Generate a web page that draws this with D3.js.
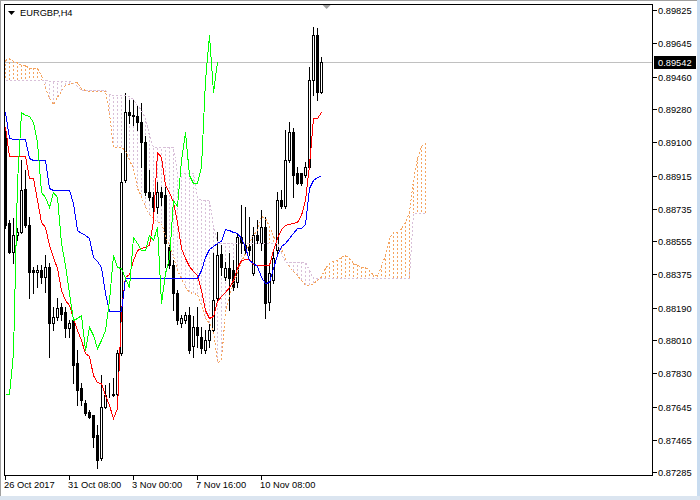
<!DOCTYPE html>
<html><head><meta charset="utf-8">
<script src="https://cdn.jsdelivr.net/npm/d3@7"></script>
<style>html,body{margin:0;padding:0;background:#fff;overflow:hidden}</style>
</head><body>
<svg id="c" width="700" height="500"></svg>
<script>
const symbol = "EURGBP,H4";
const timeLabels = ["26 Oct 2017","31 Oct 08:00","3 Nov 00:00","7 Nov 16:00","10 Nov 08:00"];
const timeTickBars = [0,16,32,48,64];
const priceTicks = [0.89825,0.89645,0.89460,0.89280,0.89100,0.88915,0.88735,0.88555,0.88375,0.88190,0.88010,0.87830,0.87645,0.87465,0.87285];
const lastPrice = 0.89542;
const chikouShift = 26;

const opens = [0.89162,0.88656,0.88496,0.88590,0.88606,0.88843,0.88645,0.88397,0.88386,0.88397,
0.88359,0.88414,0.88106,0.88139,0.88194,0.88166,0.88078,0.88122,0.87886,0.87748,
0.87666,0.87616,0.87600,0.87490,0.87363,0.87644,0.87710,0.87710,0.87715,0.87941,
0.88892,0.89266,0.89250,0.89244,0.89211,0.89101,0.88826,0.88799,0.88744,0.88826,
0.88810,0.88524,0.88425,0.88271,0.88106,0.88122,0.88150,0.87979,0.88084,0.88029,
0.87957,0.88012,0.88067,0.88243,0.88485,0.88359,0.88408,0.88397,0.88331,0.88579,
0.88535,0.88529,0.88381,0.88590,0.88546,0.88634,0.88221,0.88342,0.88507,0.88782,
0.88749,0.89002,0.89156,0.88931,0.88931,0.88920,0.88964,0.89442,0.89690,0.89376];
const highs = [0.89184,0.88672,0.88683,0.88628,0.89002,0.88947,0.88689,0.88414,0.88425,0.88425,
0.88480,0.88436,0.88194,0.88243,0.88216,0.88194,0.88122,0.88139,0.87957,0.87776,
0.87682,0.87627,0.87600,0.87545,0.87820,0.87765,0.87776,0.87803,0.87957,0.89041,
0.89371,0.89332,0.89332,0.89305,0.89316,0.89134,0.88947,0.88826,0.88881,0.88854,
0.88854,0.88535,0.88452,0.88287,0.88150,0.88166,0.88194,0.88144,0.88194,0.88084,
0.88067,0.88100,0.88491,0.88606,0.88535,0.88441,0.88491,0.88452,0.88601,0.88755,
0.88744,0.88689,0.88634,0.88672,0.88727,0.88689,0.88436,0.88507,0.88826,0.88837,
0.89167,0.89211,0.89178,0.88964,0.88931,0.88991,0.89514,0.89734,0.89728,0.89569];
const lows = [0.88628,0.88491,0.88436,0.88562,0.88601,0.88634,0.88243,0.88271,0.88304,0.88326,
0.88276,0.87919,0.88067,0.88122,0.88122,0.88029,0.88029,0.87776,0.87655,0.87655,
0.87600,0.87583,0.87424,0.87308,0.87352,0.87638,0.87699,0.87704,0.87704,0.87930,
0.88880,0.89206,0.89195,0.89167,0.88964,0.88810,0.88782,0.88716,0.88711,0.88755,
0.88414,0.88408,0.88177,0.88100,0.88084,0.88106,0.87941,0.87919,0.87974,0.87941,
0.87941,0.87974,0.88056,0.88232,0.88370,0.88342,0.88177,0.88287,0.88304,0.88491,
0.88491,0.88480,0.88370,0.88546,0.88507,0.88133,0.88177,0.88326,0.88491,0.88738,
0.88738,0.88991,0.88799,0.88870,0.88865,0.88909,0.88958,0.89360,0.89332,0.89371];
const closes = [0.88645,0.88496,0.88590,0.88606,0.88837,0.88645,0.88386,0.88386,0.88397,0.88359,
0.88414,0.88106,0.88139,0.88188,0.88155,0.88078,0.88106,0.87875,0.87737,0.87682,
0.87611,0.87589,0.87479,0.87352,0.87644,0.87710,0.87712,0.87715,0.87941,0.88881,
0.89266,0.89250,0.89244,0.89211,0.89101,0.88826,0.88799,0.88744,0.88826,0.88799,
0.88546,0.88425,0.88271,0.88122,0.88133,0.88150,0.87957,0.88084,0.88040,0.87968,
0.88012,0.88067,0.88232,0.88480,0.88414,0.88408,0.88353,0.88304,0.88579,0.88546,
0.88507,0.88507,0.88590,0.88562,0.88634,0.88216,0.88381,0.88463,0.88782,0.88749,
0.89002,0.89156,0.88920,0.88876,0.88876,0.88964,0.89442,0.89690,0.89376,0.89542];

const tenkan = [0.89184,0.89024,0.89024,0.89024,0.89024,0.89024,0.88903,0.88903,0.88782,0.88661,
0.88634,0.88535,0.88469,0.88408,0.88287,0.88232,0.88205,0.88133,0.88067,0.88012,
0.87941,0.87924,0.87820,0.87781,0.87776,0.87710,0.87655,0.87583,0.87638,0.88177,
0.88359,0.88375,0.88452,0.88507,0.88518,0.88524,0.88535,0.88672,0.89046,0.89019,
0.88865,0.88826,0.88771,0.88661,0.88518,0.88463,0.88419,0.88392,0.88370,0.88287,
0.88177,0.88133,0.88144,0.88227,0.88254,0.88276,0.88304,0.88342,0.88408,0.88452,
0.88457,0.88457,0.88430,0.88425,0.88425,0.88425,0.88425,0.88507,0.88573,0.88622,
0.88645,0.88650,0.88656,0.88661,0.88700,0.88782,0.88975,0.89233,0.89233,0.89266];
const kijun = [0.89266,0.89123,0.89118,0.89118,0.89118,0.89118,0.89013,0.89002,0.89002,0.89002,
0.89002,0.88848,0.88837,0.88837,0.88837,0.88837,0.88837,0.88766,0.88617,0.88601,
0.88590,0.88573,0.88469,0.88447,0.88414,0.88271,0.88172,0.88172,0.88172,0.88172,
0.88353,0.88353,0.88353,0.88353,0.88353,0.88353,0.88353,0.88353,0.88353,0.88353,
0.88353,0.88353,0.88353,0.88353,0.88353,0.88353,0.88353,0.88353,0.88353,0.88397,
0.88469,0.88513,0.88529,0.88546,0.88557,0.88622,0.88617,0.88606,0.88601,0.88573,
0.88524,0.88452,0.88436,0.88419,0.88359,0.88326,0.88331,0.88408,0.88480,0.88529,
0.88546,0.88573,0.88601,0.88628,0.88628,0.88650,0.88848,0.88892,0.88909,0.88914];
const spanA = [0.89552,0.89563,0.89547,0.89541,0.89525,0.89525,0.89508,0.89508,0.89508,0.89470,
0.89398,0.89343,0.89310,0.89349,0.89382,0.89415,0.89420,0.89426,0.89431,0.89398,
0.89387,0.89382,0.89382,0.89382,0.89382,0.89382,0.89261,0.89074,0.89074,0.89074,
0.89057,0.89002,0.88958,0.88848,0.88804,0.88744,0.88705,0.88683,0.88661,0.88656,
0.88584,0.88535,0.88474,0.88397,0.88353,0.88304,0.88276,0.88271,0.88265,0.88205,
0.88133,0.88106,0.88067,0.87891,0.87902,0.88166,0.88254,0.88331,0.88381,0.88447,
0.88491,0.88551,0.88590,0.88617,0.88694,0.88683,0.88639,0.88584,0.88546,0.88524,
0.88463,0.88414,0.88392,0.88370,0.88342,0.88315,0.88315,0.88326,0.88342,0.88364,
0.88408,0.88436,0.88447,0.88452,0.88469,0.88480,0.88463,0.88436,0.88425,0.88414,
0.88414,0.88397,0.88370,0.88370,0.88419,0.88480,0.88573,0.88606,0.88606,0.88628,
0.88661,0.88716,0.88892,0.89013,0.89079,0.89096];
const spanB = [0.89442,0.89442,0.89442,0.89442,0.89442,0.89442,0.89442,0.89442,0.89442,0.89442,
0.89442,0.89437,0.89437,0.89437,0.89437,0.89437,0.89437,0.89426,0.89409,0.89387,
0.89387,0.89387,0.89387,0.89387,0.89387,0.89387,0.89365,0.89360,0.89360,0.89360,
0.89360,0.89354,0.89337,0.89305,0.89277,0.89233,0.89139,0.89074,0.89074,0.89074,
0.89074,0.89074,0.89074,0.88931,0.88931,0.88931,0.88931,0.88931,0.88793,0.88782,
0.88782,0.88782,0.88639,0.88546,0.88546,0.88546,0.88546,0.88546,0.88546,0.88546,
0.88546,0.88546,0.88546,0.88546,0.88546,0.88546,0.88546,0.88546,0.88546,0.88491,
0.88441,0.88441,0.88441,0.88441,0.88441,0.88441,0.88397,0.88353,0.88353,0.88353,
0.88353,0.88353,0.88353,0.88353,0.88353,0.88353,0.88353,0.88353,0.88353,0.88353,
0.88353,0.88353,0.88353,0.88353,0.88353,0.88353,0.88353,0.88353,0.88353,0.88353,
0.88353,0.88353,0.88711,0.88711,0.88711,0.88711];

const FONT = "'Liberation Sans', Arial, sans-serif";
const svg = d3.select('#c');
const L = 4, R = 652, T = 4, B = 475;
const x = d3.scaleLinear().domain([0, 160]).range([5, 645]);
const y = d3.scaleLinear().domain([0.87285, 0.89825]).range([472.3, 10.3]);
const py = v => Math.round(y(v));

// window chrome
svg.append('rect').attr('width',700).attr('height',500).attr('fill','#ffffff');
svg.append('rect').attr('x',0).attr('y',0).attr('width',700).attr('height',1).attr('fill','#a0a0a0');
svg.append('rect').attr('x',0).attr('y',0).attr('width',1).attr('height',500).attr('fill','#a0a0a0');
svg.append('rect').attr('x',697).attr('y',0).attr('width',3).attr('height',500).attr('fill','#c9dcf0');
svg.append('rect').attr('x',0).attr('y',496).attr('width',700).attr('height',4).attr('fill','#dbe5f0');

const defs = svg.append('defs');
defs.append('clipPath').attr('id','clip').append('rect')
  .attr('x', L+1).attr('y', T+1).attr('width', R-L-1).attr('height', B-T-1);

const plot = svg.append('g').attr('clip-path','url(#clip)');

// bid line
plot.append('line').attr('x1',L).attr('x2',R).attr('y1',py(lastPrice)+0.5).attr('y2',py(lastPrice)+0.5)
  .attr('stroke','#c0c0c0').attr('shape-rendering','crispEdges');

// cloud histogram
const cloudIdx = d3.range(spanA.length);
plot.append('g').selectAll('line').data(cloudIdx).join('line')
  .attr('x1', i => x(i)+0.5).attr('x2', i => x(i)+0.5)
  .attr('y1', i => py(spanA[i])).attr('y2', i => py(spanB[i]))
  .attr('stroke', i => spanA[i] >= spanB[i] ? '#F4A460' : '#D8BFD8')
  .attr('stroke-dasharray','2,2').attr('shape-rendering','crispEdges');

// candles
const idx = d3.range(opens.length);
const cg = plot.append('g').attr('shape-rendering','crispEdges');
cg.selectAll('line.wick').data(idx).join('line').attr('class','wick')
  .attr('x1', i => x(i)+0.5).attr('x2', i => x(i)+0.5)
  .attr('y1', i => py(highs[i])).attr('y2', i => py(lows[i])+1)
  .attr('stroke','#000');
cg.selectAll('rect.bear').data(idx.filter(i => closes[i] < opens[i])).join('rect').attr('class','bear')
  .attr('x', i => x(i)-1).attr('width', 3)
  .attr('y', i => py(opens[i])).attr('height', i => Math.max(1, py(closes[i]) - py(opens[i]) + 1))
  .attr('fill','#000');
cg.selectAll('rect.bull').data(idx.filter(i => closes[i] > opens[i])).join('rect').attr('class','bull')
  .attr('x', i => x(i)-0.5).attr('width', 2)
  .attr('y', i => py(closes[i])+0.5).attr('height', i => Math.max(0, py(opens[i]) - py(closes[i])))
  .attr('fill','#fff').attr('stroke','#000');
cg.selectAll('line.doji').data(idx.filter(i => closes[i] === opens[i])).join('line').attr('class','doji')
  .attr('x1', i => x(i)-1).attr('x2', i => x(i)+2)
  .attr('y1', i => py(opens[i])+0.5).attr('y2', i => py(opens[i])+0.5).attr('stroke','#000');

// indicator lines
const lg = plot.append('g').attr('transform','translate(0.5,0.5)').attr('fill','none').attr('shape-rendering','crispEdges');
const line = d3.line().x((d,i) => x(i)).y(d => y(d));
lg.append('path').attr('d', line(spanA)).attr('stroke','#F4A460').attr('stroke-dasharray','2,2');
lg.append('path').attr('d', line(spanB)).attr('stroke','#D8BFD8').attr('stroke-dasharray','2,2');
lg.append('path').attr('d', line(tenkan)).attr('stroke','#FF0000');
lg.append('path').attr('d', line(kijun)).attr('stroke','#0000FF');
lg.append('path').attr('d', line(closes.slice(chikouShift))).attr('stroke','#00FF00');

// frame
svg.append('rect').attr('x',L+0.5).attr('y',T+0.5).attr('width',R-L).attr('height',B-T)
  .attr('fill','none').attr('stroke','#000').attr('shape-rendering','crispEdges');

// price axis
const pa = svg.append('g').attr('font-family',FONT).attr('font-size','9.3px');
priceTicks.forEach(v => {
  const yy = py(v);
  pa.append('line').attr('x1',R+1).attr('x2',R+5).attr('y1',yy+0.5).attr('y2',yy+0.5)
    .attr('stroke','#000').attr('shape-rendering','crispEdges');
  pa.append('text').attr('x',R+6).attr('y',yy+4).attr('fill','#000').text(v.toFixed(5));
});
const ly = py(lastPrice);
pa.append('rect').attr('x',R+2).attr('y',ly-6).attr('width',42).attr('height',13).attr('fill','#000');
pa.append('text').attr('x',R+6).attr('y',ly+4).attr('fill','#fff').text(lastPrice.toFixed(5));

// time axis
const ta = svg.append('g').attr('font-family',FONT).attr('font-size','9.3px');
timeTickBars.forEach((b,k) => {
  ta.append('line').attr('x1',x(b)+0.5).attr('x2',x(b)+0.5).attr('y1',B+1).attr('y2',B+5)
    .attr('stroke','#000').attr('shape-rendering','crispEdges');
  ta.append('text').attr('x',x(b)-1).attr('y',B+13).attr('fill','#000').text(timeLabels[k]);
});

// chart shift marker
const sx = x(opens.length + 0.4);
svg.append('path').attr('d',`M${sx-4},${T+1}L${sx+4},${T+1}L${sx},${T+5}Z`).attr('fill','#a0a0a0');

// title
svg.append('path').attr('d','M8,11L15,11L11.5,15Z').attr('fill','#000');
svg.append('text').attr('x',20).attr('y',16).attr('font-family',FONT).attr('font-size','9.3px')
  .attr('fill','#000').text(symbol);
</script>
</body></html>
